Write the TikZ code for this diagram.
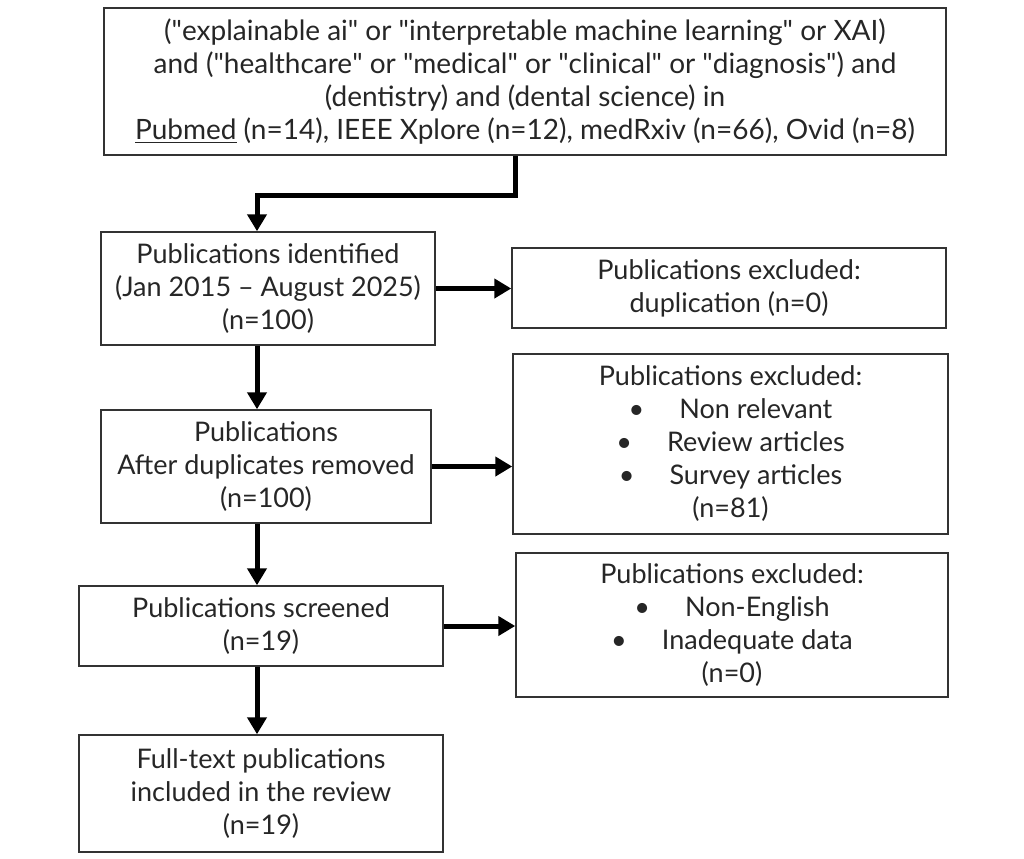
\documentclass[tikz,border=0pt]{standalone}
\usepackage{fontspec}
\setmainfont{Lato}
\usetikzlibrary{arrows.meta,positioning}
\tikzset{
  box/.style={draw=black!80,line width=0.75pt,rectangle,align=center,
    inner sep=0pt,font=\fontsize{13.5}{16.5}\selectfont,text=black!85},
  flow/.style={line width=2.5pt,-{Triangle[length=8.5pt,width=9.5pt]}}
}
\newcommand{\itm}[1]{\textbullet\hspace{1.3em}#1}
\newcommand{\dq}{\textquotedbl}
\begin{document}
\begin{tikzpicture}[x=0.5pt,y=-0.5pt]
  \useasboundingbox (0,0) rectangle (1024,858);
  \node[box,font=\fontsize{14}{16.5}\selectfont,minimum width=421pt,minimum height=73.5pt] (query) at (525,81.5)
    {(\dq explainable ai\dq{} or \dq interpretable machine learning\dq{} or XAI)\\
     and (\dq healthcare\dq{} or \dq medical\dq{} or \dq clinical\dq{} or \dq diagnosis\dq) and\\
     (dentistry) and (dental science) in\\
     \underline{Pubmed} (n=14), IEEE Xplore (n=12), medRxiv (n=66), Ovid (n=8)};
  \node[box,minimum width=167pt,minimum height=56.5pt] (ident) at (268,288.5)
    {Publications identified\\(Jan 2015 -- August 2025)\\(n=100)};
  \node[box,minimum width=217pt,minimum height=40pt] (dup) at (729,288)
    {Publications excluded:\\duplication (n=0)};
  \node[box,minimum width=165pt,minimum height=56.5pt] (removed) at (266,466.5)
    {Publications\\After duplicates removed\\(n=100)};
  \node[box,minimum width=217.5pt,minimum height=90pt] (excl81) at (730.5,444)
    {Publications excluded:\\\itm{Non relevant}\\\itm{Review articles}\\\itm{Survey articles}\\(n=81)};
  \node[box,minimum width=182pt,minimum height=40pt] (screened) at (261,626)
    {Publications screened\\(n=19)};
  \node[box,minimum width=216pt,minimum height=72pt] (exclNE) at (732,625)
    {Publications excluded:\\\itm{Non-English}\\\itm{Inadequate data}\\(n=0)};
  \node[box,minimum width=182pt,minimum height=58.5pt] (full) at (261,793.5)
    {Full-text publications\\included in the review\\(n=19)};
  \coordinate (spine) at (257,0);
  \coordinate (drop) at (515,195);
  \draw[flow] (drop |- query.south) -- (drop) -| (ident.north -| spine);
  \draw[flow] (ident.south -| spine) -- (removed.north -| spine);
  \draw[flow] (removed.south -| spine) -- (screened.north -| spine);
  \draw[flow] (screened.south -| spine) -- (full.north -| spine);
  \draw[flow] (ident.east) -- (ident.east -| dup.west);
  \draw[flow] (removed.east) -- (removed.east -| excl81.west);
  \draw[flow] (screened.east) -- (screened.east -| exclNE.west);
\end{tikzpicture}
\end{document}
